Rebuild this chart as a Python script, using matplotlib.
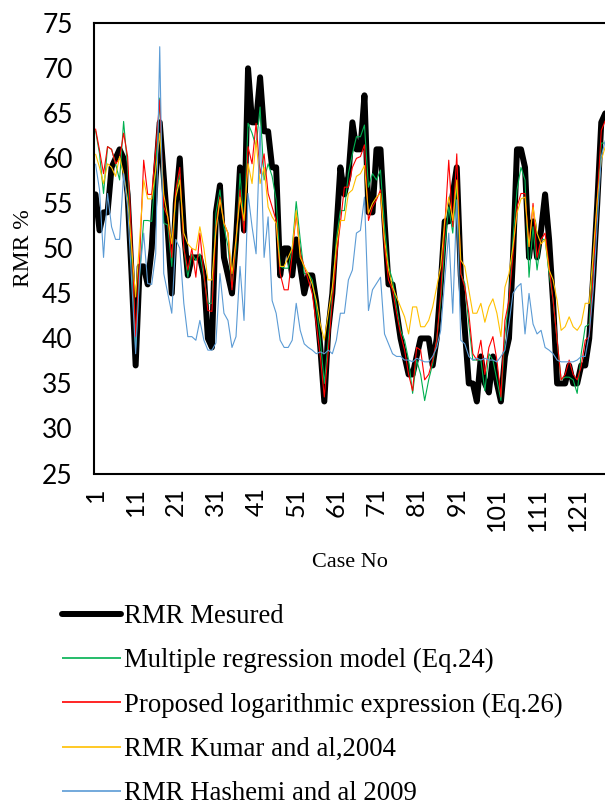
import matplotlib
matplotlib.use("Agg")
import matplotlib.pyplot as plt
from matplotlib.lines import Line2D
import numpy as np

cases = list(range(1, 129))

rmr_measured = [56, 52, 54, 54, 59, 60, 61, 60, 56, 47, 37, 48, 48, 46, 50, 58, 64, 58, 52, 45,
                55, 60, 52, 47, 49, 49, 49, 47, 40, 39, 54, 57, 49, 47, 45, 51, 59, 52, 70, 64,
                64, 69, 63, 63, 59, 59, 47, 50, 50, 47, 51, 48, 45, 47, 47, 44, 39, 33, 41, 45,
                52, 59, 56, 58, 64, 61, 61, 67, 54, 54, 61, 61, 53, 46, 46, 43, 40, 38, 36, 36,
                38, 40, 40, 40, 37, 40, 46, 53, 53, 56, 59, 47, 41, 35, 35, 33, 38, 35, 34, 38,
                35, 33, 38, 40, 49, 61, 61, 59, 49, 53, 49, 52, 56, 51, 44, 35, 35, 35, 37, 35,
                35, 37, 37, 40, 47, 55, 64, 65]

multi_reg = [63.1, 60.5, 56.1, 61.3, 61.0, 59.4, 57.6, 64.1, 59.0, 49.0, 39.0, 47.2, 53.1, 53.1, 53.0, 59.0,
             66.7, 52.8, 52.6, 48.0, 56.0, 58.3, 50.0, 46.8, 49.4, 48.7, 49.4, 46.8, 43.9, 43.9, 53.9, 56.5,
             52.4, 50.2, 45.7, 50.0, 58.3, 52.4, 63.9, 62.8, 61.3, 65.7, 57.6, 59.4, 58.0, 55.4, 48.0, 47.8,
             47.8, 50.0, 55.2, 51.0, 47.2, 47.2, 46.5, 43.5, 39.8, 35.0, 39.8, 45.0, 51.0, 54.2, 54.2, 58.3,
             60.5, 62.4, 62.4, 63.7, 56.8, 58.3, 57.6, 58.7, 52.4, 48.0, 46.5, 43.5, 40.9, 39.8, 37.6, 33.9,
             37.6, 36.0, 33.1, 35.4, 37.2, 39.8, 44.2, 50.2, 54.6, 51.7, 57.2, 47.2, 46.1, 41.6, 37.6, 37.6,
             37.6, 34.2, 38.3, 37.6, 35.4, 33.1, 40.5, 44.2, 51.0, 56.5, 59.0, 57.6, 46.8, 52.4, 47.6, 51.0,
             51.0, 47.2, 44.2, 39.8, 35.4, 35.7, 35.7, 35.4, 33.9, 38.3, 41.3, 41.6, 48.7, 54.6, 61.7, 61.7]

log_expr = [63.3, 60.9, 58.3, 61.3, 61.0, 59.4, 60.0, 62.8, 60.2, 51.0, 40.2, 49.0, 59.8, 56.0, 56.0, 61.0,
            66.5, 54.6, 53.5, 49.0, 56.5, 59.0, 50.0, 47.6, 50.0, 46.8, 51.7, 47.2, 43.1, 43.0, 52.4, 55.7,
            52.8, 51.7, 45.4, 51.0, 56.5, 51.7, 61.3, 59.4, 63.9, 58.3, 60.5, 56.1, 54.6, 53.1, 47.2, 45.4,
            45.4, 49.4, 53.9, 49.4, 48.0, 46.5, 45.0, 41.6, 38.0, 33.5, 38.7, 44.2, 49.0, 52.8, 56.8, 56.8,
            59.0, 60.0, 60.2, 61.5, 53.1, 54.6, 55.4, 56.5, 50.2, 46.5, 45.4, 42.8, 40.5, 38.7, 36.0, 34.2,
            39.0, 38.7, 35.4, 36.0, 37.6, 39.8, 45.0, 52.4, 59.8, 52.4, 60.5, 47.2, 45.7, 42.8, 38.3, 37.6,
            39.8, 36.0, 39.0, 40.2, 37.6, 33.5, 42.0, 44.2, 49.4, 54.6, 56.1, 56.1, 50.2, 55.0, 49.0, 51.0,
            51.7, 48.0, 44.2, 39.8, 35.4, 36.0, 37.6, 36.0, 35.4, 36.9, 39.8, 40.2, 47.2, 55.4, 63.1, 64.2]

kumar_2004 = [60.5, 59.0, 57.2, 59.4, 59.0, 58.0, 60.2, 58.3, 55.4, 50.0, 44.6, 51.0, 57.6, 55.5, 55.5, 58.7,
              62.8, 56.0, 53.5, 50.5, 55.7, 57.6, 51.7, 50.5, 50.0, 49.8, 52.4, 50.0, 46.5, 46.5, 52.0, 55.4,
              52.8, 51.7, 47.2, 51.0, 55.7, 53.1, 59.4, 57.2, 62.0, 57.2, 59.0, 54.6, 53.5, 52.8, 48.0, 48.0,
              49.0, 50.0, 54.2, 49.0, 48.0, 47.2, 46.0, 44.2, 41.6, 39.8, 42.8, 45.7, 50.2, 53.1, 53.1, 56.1,
              56.5, 58.0, 58.3, 59.2, 53.9, 55.0, 55.7, 56.1, 51.0, 47.6, 45.7, 44.6, 43.5, 42.4, 40.5, 43.5,
              43.5, 41.3, 41.3, 42.0, 43.5, 45.7, 48.0, 53.1, 55.7, 53.1, 57.6, 48.7, 48.0, 45.4, 42.8, 42.8,
              43.9, 41.8, 43.5, 44.4, 42.8, 40.2, 45.7, 47.2, 50.2, 53.9, 55.5, 55.7, 50.2, 54.6, 51.7, 50.5,
              51.0, 47.6, 46.5, 44.2, 40.9, 41.3, 42.4, 41.3, 40.9, 41.6, 43.9, 43.9, 49.4, 55.4, 59.8, 61.3]

hashemi_2009 = [59.4, 56.5, 49.0, 56.1, 52.4, 51.0, 51.0, 58.3, 54.6, 46.5, 38.3, 47.2, 51.7, 46.1, 46.0, 49.4,
                72.4, 47.2, 45.0, 42.8, 51.0, 50.0, 43.9, 40.2, 40.2, 39.8, 42.0, 39.8, 38.7, 38.7, 39.5, 47.2,
                42.8, 42.0, 39.0, 40.2, 48.0, 42.0, 56.1, 52.4, 49.4, 63.5, 49.0, 53.5, 44.2, 42.8, 39.8, 39.0,
                39.0, 39.8, 43.9, 40.9, 39.4, 39.0, 38.7, 38.3, 38.5, 38.3, 38.7, 38.3, 39.8, 42.8, 42.8, 46.5,
                47.6, 51.7, 52.0, 55.7, 43.1, 45.4, 46.1, 46.8, 40.5, 39.4, 38.3, 38.0, 38.0, 37.6, 37.6, 37.4,
                37.8, 37.6, 37.4, 37.4, 38.0, 39.0, 40.9, 46.5, 51.7, 42.8, 55.4, 39.8, 39.4, 38.0, 37.6, 37.8,
                37.6, 37.8, 37.6, 37.6, 37.4, 38.0, 38.7, 41.6, 45.0, 45.7, 46.1, 40.5, 45.0, 41.6, 40.5, 40.9,
                39.0, 38.7, 38.3, 37.6, 37.4, 37.4, 37.4, 37.4, 37.6, 38.0, 38.0, 40.5, 45.4, 52.8, 60.2, 62.0]

labels = ["RMR Mesured",
          "Multiple regression model (Eq.24)",
          "Proposed logarithmic expression (Eq.26)",
          "RMR Kumar and al,2004",
          "RMR Hashemi and al 2009"]
colors = ["black", "#00B050", "#FF0000", "#FFC000", "#5B9BD5"]
series = [rmr_measured, multi_reg, log_expr, kumar_2004, hashemi_2009]

W, H = 605, 810
fig = plt.figure(figsize=(W / 100, H / 100), dpi=100)
ax = fig.add_axes([93.5 / W, 1 - 473.5 / H, (607.3 - 93.5) / W, (473.5 - 23.3) / H])

handles = []
for i, (vals, col, lab) in enumerate(zip(series, colors, labels)):
    lw = 4.3 if i == 0 else 0.8
    ax.plot(cases, vals, color=col, lw=lw, solid_joinstyle="round",
            solid_capstyle="round" if i == 0 else "butt", label=lab, zorder=2 if i == 0 else 3)
    handles.append(Line2D([], [], color=col, lw=4.3 if i == 0 else 1.2,
                          solid_capstyle="round" if i == 0 else "butt"))

ax.set_xlim(0.5, 128.5)
ax.set_ylim(25, 75)
ax.set_yticks(np.arange(25, 76, 5))
ax.set_xticks(range(1, 129, 10))
ax.set_xticklabels([str(c) for c in range(1, 129, 10)], rotation=90)
ax.tick_params(axis="y", length=0, labelsize=19, pad=15)
ax.tick_params(axis="x", length=0, labelsize=18, pad=10)
for lab in ax.get_xticklabels() + ax.get_yticklabels():
    lab.set_family("Lato")
ax.spines["right"].set_visible(False)
for s in ["left", "top", "bottom"]:
    ax.spines[s].set_linewidth(1.5)
    ax.spines[s].set_color("black")

ax.set_ylabel("RMR %", family="Liberation Serif", fontsize=17, labelpad=6)
ax.set_xlabel("Case No", family="Liberation Serif", fontsize=16, labelpad=16)

leg = fig.legend(handles=handles, labels=labels, loc="upper left",
                 bbox_to_anchor=(62 / W, 1 - 604 / H), frameon=False,
                 prop={"family": "Liberation Serif", "size": 19.3},
                 handlelength=2.2, handletextpad=0.12, labelspacing=0.72, borderaxespad=0,
                 borderpad=0)

fig.savefig("out.png", dpi=100)
